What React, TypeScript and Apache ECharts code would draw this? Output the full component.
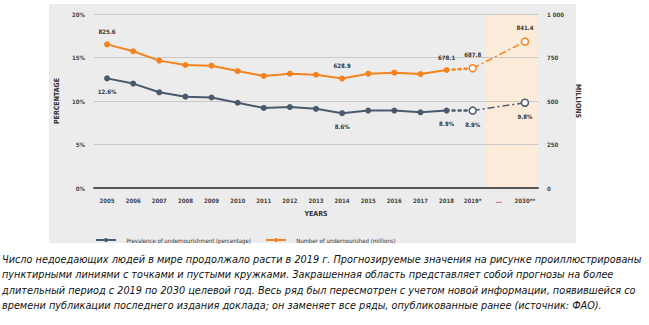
import React, { useEffect, useRef } from "react";
import * as echarts from "echarts";

const categories = ["2005", "2006", "2007", "2008", "2009", "2010", "2011", "2012", "2013", "2014", "2015", "2016", "2017", "2018", "2019*", "...", "2030**"];
const pctSolid = [12.6, 12.0, 11.0, 10.5, 10.4, 9.8, 9.2, 9.3, 9.1, 8.6, 8.9, 8.9, 8.7, 8.9];
const pct2019 = 8.9;
const pct2030 = 9.8;
const milSolid = [825.6, 786, 732, 707, 703, 672, 644, 657, 651, 628.9, 657, 663, 655, 678.1];
const mil2019 = 687.8;
const mil2030 = 841.4;
const projectionCats = ["...", "2030**"];
const leftTicks = [0, 5, 10, 15, 20];
const rightTicks = [0, 250, 500, 750, 1000];
const pctLabels: Record<number, string> = { 0: "12.6%", 9: "8.6%", 13: "8.9%", 14: "8.9%", 16: "9.8%" };
const milLabels: Record<number, string> = { 0: "825.6", 9: "628.9", 13: "678.1", 14: "687.8", 16: "841.4" };
const legendNames = ["Prevalence of undernourishment (percentage)", "Number of undernourished (millions)"];
const captionLines = [
  "Число недоедающих людей в мире продолжало расти в 2019 г. Прогнозируемые значения на рисунке проиллюстрированы",
  "пунктирными линиями с точками и пустыми кружками. Закрашенная область представляет собой прогнозы на более",
  "длительный период с 2019 по 2030 целевой год. Весь ряд был пересмотрен с учетом новой информации, появившейся со",
  "времени публикации последнего издания доклада; он заменяет все ряды, опубликованные ранее (источник: ФАО).",
];

const BLUE = "#4a5a6e";
const ORANGE = "#f5821f";
const PANEL = "#ececec";
const FONT = "Liberation Sans Narrow, DejaVu Sans Condensed, Liberation Sans, sans-serif";

export default function App() {
  const ref = useRef<HTMLDivElement>(null);
  useEffect(() => {
    const chart = echarts.init(ref.current!, undefined, { renderer: "svg" });
    const n = categories.length;
    const solid = (arr: number[]) => (arr as (number | null)[]).concat(new Array(n - arr.length).fill(null));
    const dotted = (last: number, next: number) => {
      const d: (number | null)[] = new Array(n).fill(null);
      d[13] = last;
      d[14] = next;
      return d;
    };
    const dashdot = (a: number, b: number) => {
      const d: (number | null)[] = new Array(n).fill(null);
      d[14] = a;
      d[16] = b;
      return d;
    };
    const shade = categories.map((c) => (projectionCats.includes(c) ? 20 : null));
    const labelFor = (map: Record<number, string>, pos: string) => ({
      show: true,
      position: pos,
      fontSize: 6,
      fontWeight: "bold",
      color: "#333",
      fontFamily: FONT,
      distance: 7,
      formatter: (p: any) => map[p.dataIndex] ?? "",
    });
    const yLabel = { fontSize: 6, color: "#444", fontFamily: FONT, fontWeight: "bold" };
    const openSym = (color: string) => ({
      symbol: "circle",
      symbolSize: 7,
      itemStyle: { color: "#fff", borderColor: color, borderWidth: 1.5 },
    });
    const legendBase = {
      top: 232,
      itemWidth: 20,
      itemHeight: 5,
      formatter: (name: string) => "   " + name,
      textStyle: { fontSize: 6, color: "#333", fontFamily: FONT },
    };
    const option: any = {
      animation: false,
      backgroundColor: "#ffffff",
      grid: { left: 94, right: 111, top: 14, bottom: 137, containLabel: false },
      graphic: captionLines.map((t, i) => ({
        type: "text",
        x: 2,
        y: 259 + i * 15.5,
        style: { text: t, fontSize: 10.8, fontStyle: "italic", fill: "#111", fontFamily: FONT, verticalAlign: "middle" },
      })),
      legend: [
        { ...legendBase, left: 90, data: [legendNames[0]] },
        { ...legendBase, left: 260, data: [legendNames[1]] },
      ],
      xAxis: {
        type: "category",
        data: categories,
        boundaryGap: true,
        name: "YEARS",
        nameLocation: "middle",
        nameGap: 22,
        nameTextStyle: { fontSize: 7, fontWeight: "bold", color: "#333", fontFamily: FONT },
        axisLine: { lineStyle: { color: "#555", width: 2 } },
        axisTick: { show: false },
        axisLabel: { fontSize: 6, color: "#444", fontFamily: FONT, fontWeight: "bold", margin: 9, interval: 0 },
        z: 5,
      },
      yAxis: [
        {
          type: "value",
          min: 0,
          max: 20,
          interval: 5,
          name: "PERCENTAGE",
          nameLocation: "middle",
          nameRotate: 90,
          nameGap: 34,
          nameTextStyle: { fontSize: 7, fontWeight: "bold", color: "#333", fontFamily: FONT },
          axisLine: { show: false },
          axisTick: { show: false },
          axisLabel: { ...yLabel, margin: 9, formatter: (v: number) => (leftTicks.includes(v) ? v + "%" : "") },
          splitLine: { lineStyle: { color: "#c8c8c8", width: 1 } },
          z: 2,
        },
        {
          type: "value",
          min: 0,
          max: 1000,
          interval: 250,
          name: "MILLIONS",
          nameLocation: "middle",
          nameRotate: -90,
          nameGap: 28,
          nameTextStyle: { fontSize: 7, fontWeight: "bold", color: "#333", fontFamily: FONT },
          axisLine: { show: false },
          axisTick: { show: false },
          axisLabel: { ...yLabel, margin: 9, formatter: (v: number) => (rightTicks.includes(v) ? (v === 1000 ? "1 000" : String(v)) : "") },
          splitLine: { show: false },
          z: 2,
        },
      ],
      series: [
        {
          name: "panel",
          type: "custom",
          silent: true,
          z: 0,
          clip: false,
          data: [0],
          renderItem: () => ({
            type: "rect",
            shape: { x: 49, y: 4, width: 527, height: 239 },
            style: { fill: PANEL },
          }),
        },
        {
          name: "projection",
          type: "bar",
          yAxisIndex: 0,
          data: shade,
          barWidth: "100%",
          barGap: "-100%",
          itemStyle: { color: "#fdebd9" },
          silent: true,
          z: 1,
        },
        {
          name: legendNames[0],
          type: "line",
          yAxisIndex: 0,
          data: solid(pctSolid),
          symbol: "circle",
          symbolSize: 6,
          color: BLUE,
          lineStyle: { width: 2, color: BLUE },
          label: labelFor(pctLabels, "bottom"),
          z: 4,
        },
        {
          name: "pct-dotted",
          type: "line",
          yAxisIndex: 0,
          data: dotted(pctSolid[13], pct2019),
          symbol: "none",
          lineStyle: { width: 2.5, color: BLUE, type: [2, 4], cap: "round" },
          z: 3,
        },
        {
          name: "pct-dashdot",
          type: "line",
          yAxisIndex: 0,
          data: dashdot(pct2019, pct2030),
          connectNulls: true,
          ...openSym(BLUE),
          lineStyle: { width: 1.5, color: BLUE, type: [7, 3, 2, 3] },
          label: labelFor(pctLabels, "bottom"),
          z: 5,
        },
        {
          name: legendNames[1],
          type: "line",
          yAxisIndex: 1,
          data: solid(milSolid),
          symbol: "circle",
          symbolSize: 6,
          color: ORANGE,
          lineStyle: { width: 2, color: ORANGE },
          label: labelFor(milLabels, "top"),
          z: 4,
        },
        {
          name: "mil-dotted",
          type: "line",
          yAxisIndex: 1,
          data: dotted(milSolid[13], mil2019),
          symbol: "none",
          lineStyle: { width: 2.5, color: ORANGE, type: [2, 4], cap: "round" },
          z: 3,
        },
        {
          name: "mil-dashdot",
          type: "line",
          yAxisIndex: 1,
          data: dashdot(mil2019, mil2030),
          connectNulls: true,
          ...openSym(ORANGE),
          lineStyle: { width: 1.5, color: ORANGE, type: [7, 3, 2, 3] },
          label: labelFor(milLabels, "top"),
          z: 5,
        },
      ],
    };
    chart.setOption(option);
    return () => chart.dispose();
  }, []);
  return <div ref={ref} style={{ position: "absolute", left: 0, top: 0, width: 649, height: 325 }} />;
}
